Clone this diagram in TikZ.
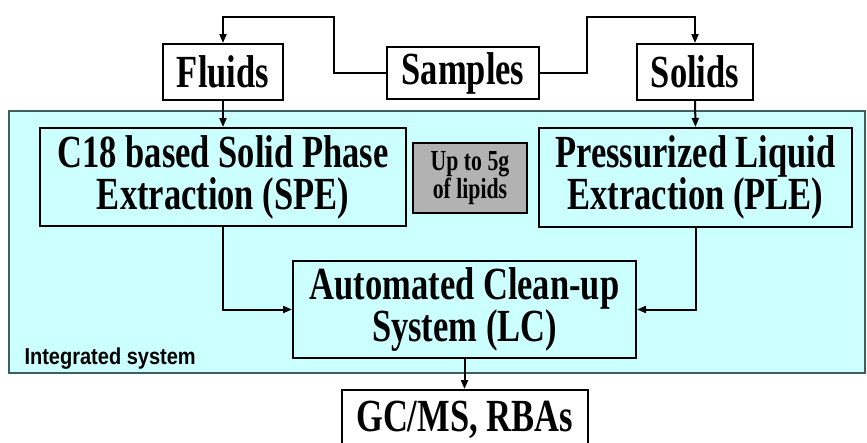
\documentclass[tikz,border=0pt]{standalone}
\usepackage{fontspec}
\setmainfont{Liberation Serif}
\newfontfamily\condserif[FakeStretch=0.75]{Liberation Serif}
\newfontfamily\condsans[FakeStretch=0.87]{Liberation Sans}
\usetikzlibrary{arrows.meta}
\definecolor{panelfill}{HTML}{CCFFFF}
\definecolor{panelline}{HTML}{3F5F5F}
\definecolor{greyfill}{HTML}{B2B2B2}
\begin{document}
\begin{tikzpicture}[x=1pt,y=-1pt,
  box/.style={draw=black,line width=2pt,fill=white,inner sep=0pt,align=center,
    font=\condserif\bfseries\fontsize{46}{42}\selectfont},
  bluebox/.style={box,fill=panelfill},
  greybox/.style={draw=black,line width=2pt,fill=greyfill,inner sep=0pt,align=center,
    font=\condserif\bfseries\fontsize{29}{28}\selectfont},
  conn/.style={line width=2pt,-{Triangle[length=9pt,width=7pt]}}]
\useasboundingbox (0,0) rectangle (867,442);
\node[draw=panelline,line width=1.5pt,fill=panelfill,minimum width=856pt,minimum height=262pt,inner sep=0pt] (panel) at (437,242) {};
\node[anchor=base west,font=\condsans\bfseries\fontsize{23}{26}\selectfont] (intlabel) at (21,364) {Integrated system};

\node[box,minimum width=120pt,minimum height=56pt] (fluids) at (223,72) {Fluids};
\node[box,minimum width=152pt,minimum height=52pt] (samples) at (463,73) {Samples};
\node[box,minimum width=116pt,minimum height=56pt] (solids) at (695,72) {Solids};

\node[bluebox,minimum width=366pt,minimum height=98pt] (spe) at (223,177) {C18 based Solid Phase\\Extraction (SPE)};
\node[bluebox,minimum width=313pt,minimum height=99pt] (ple) at (695.5,177.5) {Pressurized Liquid\\Extraction (PLE)};
\node[greybox,minimum width=114pt,minimum height=70pt] (grey) at (470,178) {Up to 5g\\of lipids};
\node[bluebox,minimum width=343pt,minimum height=97pt] (lc) at (464.5,309.5) {Automated Clean-up\\System (LC)};
\node[box,minimum width=246pt,minimum height=60pt] (gc) at (464.5,420) {GC/MS, RBAs};

\coordinate (topL) at (334,17);
\coordinate (topR) at (587,17);
\draw[conn] (samples.west) -| (topL) -| (fluids.north);
\draw[conn] (samples.east) -| (topR) -| (solids.north);
\draw[conn] (fluids.south) -- (spe.north);
\draw[conn] (solids.south) -- (ple.north);
\draw[conn] (spe.south) |- (lc.west);
\draw[conn] (ple.south) |- (lc.east);
\draw[conn] (lc.south) -- (gc.north);
\end{tikzpicture}
\end{document}
